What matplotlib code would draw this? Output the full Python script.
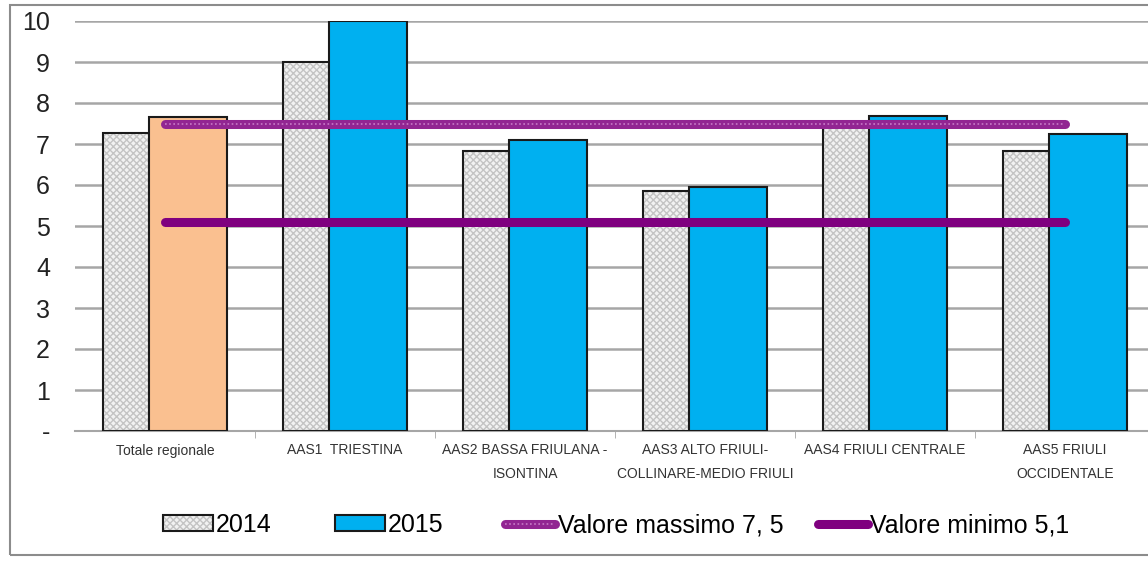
import matplotlib
matplotlib.use('Agg')
import matplotlib.pyplot as plt
import numpy as np
from matplotlib.patches import Rectangle, Patch
from matplotlib.legend_handler import HandlerTuple

# dati
categorie = ['Totale regionale', 'AAS1  TRIESTINA', 'AAS2 BASSA FRIULANA -\nISONTINA',
             'AAS3 ALTO FRIULI-\nCOLLINARE-MEDIO FRIULI', 'AAS4 FRIULI CENTRALE',
             'AAS5 FRIULI\nOCCIDENTALE']
val_2014 = [7.27, 9.0, 6.83, 5.85, 7.48, 6.84]
val_2015 = [7.66, 10.0, 7.1, 5.95, 7.68, 7.24]
val_max = 7.5
val_min = 5.1
y_ticks = [0, 1, 2, 3, 4, 5, 6, 7, 8, 9, 10]
y_labels = ['-', '1', '2', '3', '4', '5', '6', '7', '8', '9', '10']
leg_labels = ['2014', '2015', 'Valore massimo 7, 5', 'Valore minimo 5,1']

plt.rcParams['font.family'] = ['Liberation Sans Narrow', 'Liberation Sans', 'DejaVu Sans']

fig = plt.figure(figsize=(11.48, 5.63), dpi=100)
# cornice grigia attorno al grafico
fig.patches.append(Rectangle((10 / 1148, 8 / 563), 1.2, 550 / 563, transform=fig.transFigure,
                             fill=False, edgecolor='#8c8c8c', linewidth=1.5))
ax = fig.add_axes([75 / 1148, 1 - 431 / 563, 1080 / 1148, 410 / 563])

x = np.arange(len(categorie))
w = 0.433
off = 0.13

# barre 2014: sfondo a scacchi grigio
ax.bar(x - off, val_2014, w, color='#f2f2f2', edgecolor='#c4c4c4', hatch='xxxxx',
       linewidth=0, zorder=2)
ax.bar(x - off, val_2014, w, fill=False, edgecolor='#1a1a1a', linewidth=1.5, zorder=3)

col_2015 = ['#FAC090'] + ['#00B0F0'] * (len(categorie) - 1)
ax.bar(x + off, val_2015, w, color=col_2015, edgecolor='#1a1a1a', linewidth=1.5, zorder=4)

# linee valore massimo / minimo
xl = [x[0], x[-1]]
l_max = ax.plot(xl, [val_max, val_max], color='#922592', lw=6.5, solid_capstyle='round', zorder=5)[0]
l_max2 = ax.plot(xl, [val_max, val_max], color='#c77ac7', lw=1.2, ls=(0, (1, 1.5)), zorder=6)[0]
l_min = ax.plot(xl, [val_min, val_min], color='#7F007F', lw=6.5, solid_capstyle='round', zorder=5)[0]

ax.set_xlim(-0.5, len(categorie) - 0.5)
ax.set_ylim(0, 10)
ax.set_yticks(y_ticks)
ax.set_yticklabels(y_labels, fontsize=18, color='#222222')
ax.yaxis.grid(True, color='#a6a6a6', linewidth=1.8, zorder=0)
ax.set_axisbelow(True)
ax.tick_params(axis='y', length=0, pad=18)

ax.set_xticks(x)
ax.set_xticklabels(categorie, fontsize=10, color='#333333', linespacing=1.9)
ax.set_xticks(x[:-1] + 0.5, minor=True)
ax.tick_params(axis='x', which='major', length=0, pad=9)
ax.tick_params(axis='x', which='minor', length=5, color='#a6a6a6', direction='out')

for s in ['left', 'right', 'top']:
    ax.spines[s].set_visible(False)
ax.spines['bottom'].set_color('#a6a6a6')
ax.spines['bottom'].set_linewidth(1.5)

h14 = Patch(facecolor='#f2f2f2', edgecolor='#c4c4c4', hatch='xxxxx', linewidth=0)
h14b = Patch(fill=False, edgecolor='#1a1a1a', linewidth=1.5)
h15 = Patch(facecolor='#00B0F0', edgecolor='#1a1a1a', linewidth=1.5)
handles = [(h14, h14b), h15, (l_max, l_max2), l_min]

# legenda: una voce alla volta, come nell'originale (spaziature irregolari)
leg_x = [163, 335, 505, 818]
for hd, lb, px in zip(handles, leg_labels, leg_x):
    fig.legend([hd], [lb], handler_map={tuple: HandlerTuple(ndivide=1, pad=0)},
               loc='center left', bbox_to_anchor=(px / 1148, 1 - 525 / 563), frameon=False,
               fontsize=18, handlelength=2.0, handleheight=0.6, handletextpad=0.1,
               borderpad=0, borderaxespad=0)

fig.savefig('out.png', dpi=100)
